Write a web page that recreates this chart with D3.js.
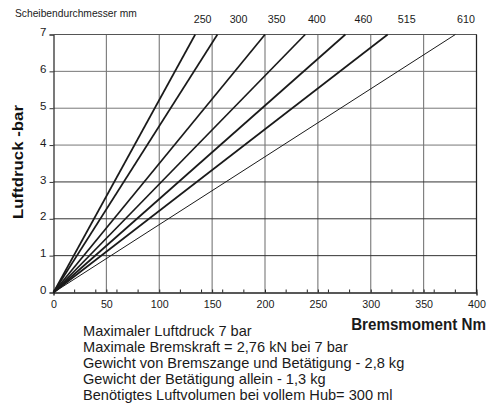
<!DOCTYPE html>
<html>
<head>
<meta charset="utf-8">
<script src="https://cdn.jsdelivr.net/npm/d3@7"></script>
<style>
  body { margin: 0; background: #fff; }
  svg { display: block; font-family: "Liberation Sans", Arial, sans-serif; }
</style>
</head>
<body>
<div id="chart"></div>
<script>
// disc diameters (mm) and the braking torque (Nm) each reaches at 7 bar
const discs = ["250", "300", "350", "400", "460", "515", "610"];
const torqueAt7 = [134, 155, 200, 238, 276, 316, 380];
// where each disc label sits along the torque axis
const labelAt = [141, 175, 211, 249, 293, 334, 390];
const xTicks = [0, 50, 100, 150, 200, 250, 300, 350, 400];
const xMinor = [20, 40, 60, 80, 120, 140, 160, 180, 220, 240, 260, 280, 320, 340, 360, 380];
const yTicks = [0, 1, 2, 3, 4, 5, 6, 7];
const notes = [
    "Maximaler Luftdruck 7 bar",
    "Maximale Bremskraft = 2,76 kN bei 7 bar",
    "Gewicht von Bremszange und Betätigung - 2,8 kg",
    "Gewicht der Betätigung allein - 1,3 kg",
    "Benötigtes Luftvolumen bei vollem Hub= 300 ml"
];

const width = 492, height = 417;
const NARROW = 0.93; // the original uses a slightly condensed grotesque

const svg = d3.select("#chart").append("svg")
    .attr("width", width)
    .attr("height", height);

const x = d3.scaleLinear().domain([0, 400]).range([53.5, 476.5]);
const y = d3.scaleLinear().domain([0, 7]).range([292.5, 34.5]);

// text helper: squeezes horizontally, or fits to a width when one is given
function label(parent, px, py, str, size, anchor, weight, fitW) {
    const t = parent.append("text")
        .attr("text-anchor", anchor || "start")
        .attr("font-size", size + "px")
        .attr("font-weight", weight || "normal")
        .attr("fill", "#1a1a1a")
        .text(str);
    const sx = fitW ? fitW / t.node().getComputedTextLength() : NARROW;
    t.attr("transform", `translate(${px},${py}) scale(${sx},1)`);
    return t;
}

// grid
svg.append("g").selectAll("line")
    .data(xTicks.slice(1))
    .join("line")
    .attr("x1", d => x(d)).attr("x2", d => x(d))
    .attr("y1", y(0)).attr("y2", y(7))
    .attr("stroke", "#777").attr("stroke-width", 1.1);

svg.append("g").selectAll("line")
    .data(yTicks.slice(1))
    .join("line")
    .attr("x1", x(0)).attr("x2", x(400))
    .attr("y1", d => y(d)).attr("y2", d => y(d))
    .attr("stroke", d => d <= 3 ? "#333" : "#777").attr("stroke-width", 1);

// axes
const xAxis = svg.append("g")
    .attr("transform", `translate(0,${y(0)})`)
    .call(d3.axisBottom(x).tickValues(xTicks).tickSize(3).tickPadding(4));
xAxis.select(".domain").attr("stroke", "#222").attr("stroke-width", 1.4);
xAxis.selectAll(".tick line").attr("y2", -3).attr("stroke", "#222");
xAxis.selectAll("text")
    .attr("font-size", "11.5px").attr("fill", "#1a1a1a").attr("font-family", null)
    .attr("transform", `scale(${NARROW},1)`);
xAxis.selectAll(".minor")
    .data(xMinor)
    .join("line")
    .attr("class", "minor")
    .attr("x1", d => x(d)).attr("x2", d => x(d))
    .attr("y1", 0).attr("y2", -3)
    .attr("stroke", "#222");

const yAxis = svg.append("g")
    .attr("transform", `translate(${x(0)},0)`)
    .call(d3.axisLeft(y).tickValues(yTicks).tickFormat(d3.format("d")).tickSize(4).tickPadding(3));
yAxis.select(".domain").attr("stroke", "#222").attr("stroke-width", 1.2);
yAxis.selectAll(".tick line").attr("stroke", "#333");
yAxis.selectAll("text")
    .attr("font-size", "11.5px").attr("fill", "#1a1a1a").attr("font-family", null)
    .attr("dy", "0.1em");

// top and right frame
svg.append("line")
    .attr("x1", x(0)).attr("x2", x(400)).attr("y1", y(7)).attr("y2", y(7))
    .attr("stroke", "#555").attr("stroke-width", 1.2);
svg.append("line")
    .attr("x1", x(400)).attr("x2", x(400)).attr("y1", y(0)).attr("y2", y(7))
    .attr("stroke", "#222").attr("stroke-width", 1.2);

// pressure / torque lines
const line = d3.line().x(d => x(d[0])).y(d => y(d[1]));
svg.append("g").selectAll("path")
    .data(torqueAt7)
    .join("path")
    .attr("d", d => line([[0, 0], [d, 7]]))
    .attr("fill", "none")
    .attr("stroke", "#1a1a1a")
    .attr("stroke-width", (d, i) => i === torqueAt7.length - 1 ? 1 : 1.7);

// disc labels
const discG = svg.append("g");
discs.forEach((d, i) => label(discG, x(labelAt[i]), 23, d, 11.5, "middle"));

label(svg, 15, 17, "Scheibendurchmesser mm", 11, "start", "normal", 122);

const yTitle = svg.append("text")
    .attr("text-anchor", "middle")
    .attr("font-size", "14.5px")
    .attr("font-weight", "bold")
    .attr("fill", "#111")
    .text("Luftdruck -bar");
yTitle.attr("transform", `translate(23,162) rotate(-90) scale(${114 / yTitle.node().getComputedTextLength()},1)`);

label(svg, 486, 330, "Bremsmoment Nm", 16, "end", "bold", 135);

// info lines: squeezed to the width of the longest line
const notesG = svg.append("g");
const noteEls = notes.map((n, i) => label(notesG, 83, 336 + i * 16, n, 15));
const longest = d3.max(noteEls, t => t.node().getComputedTextLength());
noteEls.forEach((t, i) => t.attr("transform", `translate(83,${336 + i * 16}) scale(${321 / longest},1)`));
</script>
</body>
</html>
